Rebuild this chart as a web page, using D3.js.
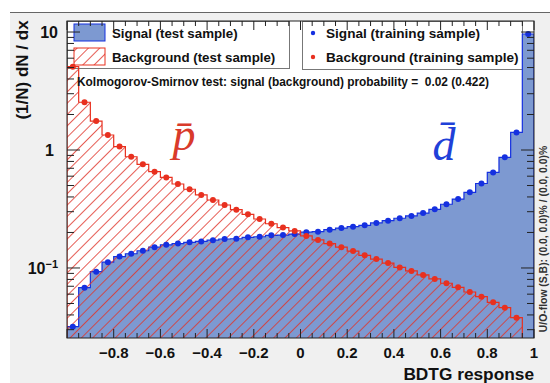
<!DOCTYPE html>
<html>
<head>
<meta charset="UTF-8">
<script src="https://d3js.org/d3.v7.min.js"></script>
<style>
  body { margin: 0; background: #fff; }
  svg { display: block; font-family: "Liberation Sans", Arial, sans-serif; font-weight: bold; }
</style>
</head>
<body>
<svg id="chart" width="550" height="383"></svg>
<script>
// 40 bins of width 0.05 on [-1, 1]
var binLo = -1, binW = 0.05;

// signal (d-bar) histogram, test sample, and training-sample points
var sigTest  = [0.0318, 0.0681, 0.0931, 0.112, 0.125, 0.132, 0.140, 0.150, 0.157, 0.161,
                0.165, 0.168, 0.172, 0.176, 0.177, 0.182, 0.184, 0.189, 0.190, 0.194,
                0.201, 0.203, 0.211, 0.218, 0.224, 0.230, 0.241, 0.252, 0.264, 0.276,
                0.292, 0.314, 0.347, 0.384, 0.438, 0.520, 0.645, 0.867, 1.41, 9.62];
var sigTrain = [0.0318, 0.0681, 0.0931, 0.112, 0.125, 0.132, 0.140, 0.150, 0.157, 0.161,
                0.165, 0.168, 0.172, 0.176, 0.177, 0.182, 0.184, 0.189, 0.190, 0.194,
                0.201, 0.203, 0.211, 0.218, 0.224, 0.230, 0.241, 0.252, 0.264, 0.276,
                0.292, 0.314, 0.347, 0.384, 0.438, 0.520, 0.645, 0.867, 1.41, 9.62];

// background (p-bar) histogram, test sample, and training-sample points
var bkgTest  = [5.08, 2.54, 1.76, 1.34, 1.07, 0.877, 0.756, 0.655, 0.585, 0.515,
                0.465, 0.416, 0.377, 0.342, 0.312, 0.285, 0.260, 0.237, 0.220, 0.206,
                0.187, 0.173, 0.161, 0.150, 0.139, 0.128, 0.119, 0.110, 0.101, 0.0944,
                0.0873, 0.0807, 0.0742, 0.0686, 0.0626, 0.0571, 0.0512, 0.0461, 0.0379, 0];
var bkgTrain = [5.08, 2.54, 1.76, 1.34, 1.07, 0.877, 0.756, 0.655, 0.585, 0.515,
                0.465, 0.416, 0.377, 0.342, 0.312, 0.285, 0.260, 0.237, 0.220, 0.206,
                0.187, 0.173, 0.161, 0.150, 0.139, 0.128, 0.119, 0.110, 0.101, 0.0944,
                0.0873, 0.0807, 0.0742, 0.0686, 0.0626, 0.0571, 0.0512, 0.0461, 0.0379, 0];

var xTicks = [-0.8, -0.6, -0.4, -0.2, 0, 0.2, 0.4, 0.6, 0.8, 1];
var legendLeft = ["Signal (test sample)", "Background (test sample)"];
var legendRight = ["Signal (training sample)", "Background (training sample)"];
var ksText = "Kolmogorov-Smirnov test: signal (background) probability =  0.02 (0.422)";
var ovText = "U/O-flow (S,B): (0.0, 0.0)% / (0.0, 0.0)%";

var sigFill = "#7d99d1", sigLine = "#1530e0", bkgLine = "#e8301f";

var svg = d3.select("#chart");
var L = 67, R = 534, T = 21, B = 338;

var x = d3.scaleLinear().domain([-1, 1]).range([L, R]);
var y = d3.scaleLog().domain([0.0255, 12.4]).range([B, T]);

// canvas pad
svg.append("rect").attr("x", 10).attr("y", 12).attr("width", 540).attr("height", 371).attr("fill", "#f0f0f0");
svg.append("line").attr("x1", 10).attr("x2", 550).attr("y1", 12.5).attr("y2", 12.5).attr("stroke", "#666");
svg.append("rect").attr("x", L).attr("y", T).attr("width", R - L).attr("height", B - T).attr("fill", "#fff");

var defs = svg.append("defs");
var pat = defs.append("pattern").attr("id", "hatch").attr("patternUnits", "userSpaceOnUse")
  .attr("width", 8).attr("height", 8).attr("patternTransform", "rotate(45)");
pat.append("rect").attr("x", 0).attr("y", 0).attr("width", 1).attr("height", 8)
  .style("fill", "#e0352a").style("fill-opacity", 0.8);
defs.append("clipPath").attr("id", "frame").append("rect")
  .attr("x", L).attr("y", T).attr("width", R - L).attr("height", B - T);

// legends (under the histograms)
var lg1 = svg.append("g");
lg1.append("rect").attr("x", L + 0.5).attr("y", T + 0.5).attr("width", 222).attr("height", 47)
  .attr("fill", "#fff").attr("stroke", "#777");
lg1.append("rect").attr("x", 74).attr("y", 24).attr("width", 31).attr("height", 17)
  .attr("fill", sigFill).attr("stroke", sigLine);
lg1.append("rect").attr("x", 74).attr("y", 48).attr("width", 31).attr("height", 17)
  .style("fill", "url(#hatch)").attr("stroke", bkgLine);
lg1.selectAll("text.l").data(legendLeft).enter().append("text")
  .attr("x", 112).attr("y", function(d, i) { return 38 + i * 24; })
  .style("font-size", "13.3px").attr("fill", "#111").text(function(d) { return d; });

var lg2 = svg.append("g");
lg2.append("rect").attr("x", 302.5).attr("y", T + 0.5).attr("width", 220).attr("height", 48)
  .attr("fill", "#fff").attr("stroke", "#777");
lg2.selectAll("circle").data([sigLine, bkgLine]).enter().append("circle")
  .attr("cx", 313).attr("cy", function(d, i) { return 33 + i * 24; }).attr("r", 2.2).attr("fill", function(d) { return d; });
lg2.selectAll("text").data(legendRight).enter().append("text")
  .attr("x", 326).attr("y", function(d, i) { return 38 + i * 24; })
  .style("font-size", "13.6px").attr("fill", "#111").text(function(d) { return d; });

function histPath(vals) {
  var p = "M" + x(binLo) + "," + B;
  var last = 0;
  vals.forEach(function(v, i) {
    if (v <= 0) return;
    last = i;
    p += "L" + x(binLo + i * binW) + "," + y(v) + "L" + x(binLo + (i + 1) * binW) + "," + y(v);
  });
  p += "L" + x(binLo + (last + 1) * binW) + "," + B;
  return p;
}

var plot = svg.append("g").attr("clip-path", "url(#frame)");
plot.append("path").attr("d", histPath(sigTest)).attr("fill", sigFill).attr("stroke", sigLine).attr("stroke-width", 1.2);
plot.append("path").attr("d", histPath(bkgTest)).style("fill", "url(#hatch)").attr("stroke", bkgLine).attr("stroke-width", 1.2);

// training points
function points(vals, col) {
  plot.append("g").selectAll("circle")
    .data(vals.map(function(v, i) { return {v: v, i: i}; }).filter(function(d) { return d.v > 0; }))
    .enter().append("circle")
    .attr("cx", function(d) { return x(binLo + (d.i + 0.5) * binW); })
    .attr("cy", function(d) { return y(d.v); })
    .attr("r", 3).attr("fill", col);
}
points(sigTrain, sigLine);
points(bkgTrain, bkgLine);

// particle labels
svg.append("text").attr("x", 184).attr("y", 150).attr("text-anchor", "middle")
  .style("font-family", "Liberation Serif, serif").style("font-style", "italic").style("font-weight", "normal")
  .style("font-size", "46px").attr("fill", "#d93a2b").text("p\u0304");
svg.append("text").attr("x", 444).attr("y", 160).attr("text-anchor", "middle")
  .style("font-family", "Liberation Serif, serif").style("font-style", "italic").style("font-weight", "normal")
  .style("font-size", "46px").attr("fill", "#2040d8").text("d\u0304");

svg.append("text").attr("x", 77).attr("y", 86).style("font-size", "11.9px").style("white-space", "pre")
  .attr("fill", "#111").text(ksText);

// frame
svg.append("rect").attr("x", L).attr("y", T).attr("width", R - L).attr("height", B - T)
  .attr("fill", "none").attr("stroke", "#222");

// x ticks (bottom and top), minor every 0.05
var xMinor = d3.range(0, 41).map(function(i) { return -1 + i * 0.05; });
var tk = svg.append("g").attr("stroke", "#222").attr("stroke-width", 1);
xMinor.forEach(function(v, i) {
  var len = (i % 4 === 0) ? 9 : 5;
  tk.append("line").attr("x1", x(v)).attr("x2", x(v)).attr("y1", B).attr("y2", B - len);
  tk.append("line").attr("x1", x(v)).attr("x2", x(v)).attr("y1", T).attr("y2", T + len);
});
// y ticks (left and right), log minors
var yMinor = [];
[0.01, 0.1, 1, 10].forEach(function(dec) {
  for (var k = 1; k <= 9; k++) {
    var v = dec * k;
    if (v >= 0.0255 && v <= 12.4) yMinor.push({v: v, major: k === 1});
  }
});
yMinor.forEach(function(d) {
  var len = d.major ? 13 : 7;
  tk.append("line").attr("x1", L).attr("x2", L + len).attr("y1", y(d.v)).attr("y2", y(d.v));
  tk.append("line").attr("x1", R).attr("x2", R - len).attr("y1", y(d.v)).attr("y2", y(d.v));
});

// tick labels
svg.selectAll("text.xl").data(xTicks).enter().append("text")
  .attr("x", function(d) { return x(d); }).attr("y", 358).attr("text-anchor", "middle")
  .style("font-size", "15px").attr("fill", "#111")
  .text(function(d) { return d3.format("")(d).replace("-", "\u2212"); });

var yl = svg.append("g").style("font-size", "16px").attr("fill", "#111");
yl.append("text").attr("x", 58).attr("y", y(10) + 6).attr("text-anchor", "end").text("10");
yl.append("text").attr("x", 54).attr("y", y(1) + 6).attr("text-anchor", "end").text("1");
var t01 = yl.append("text").attr("x", 58).attr("y", y(0.1) + 6).attr("text-anchor", "end");
t01.append("tspan").text("10");
t01.append("tspan").attr("dy", -6).style("font-size", "11px").text("\u22121");

// axis titles
svg.append("text").attr("x", 534).attr("y", 380).attr("text-anchor", "end")
  .style("font-size", "17.3px").attr("fill", "#111").text("BDTG response");
svg.append("text").attr("transform", "translate(28,70) rotate(-90)").attr("text-anchor", "middle")
  .style("font-size", "17px").attr("fill", "#111").text("(1/N) dN / dx");
svg.append("text").attr("transform", "translate(547,239) rotate(-90)").attr("text-anchor", "middle")
  .style("font-size", "10.4px").attr("fill", "#333").text(ovText);
</script>
</body>
</html>
